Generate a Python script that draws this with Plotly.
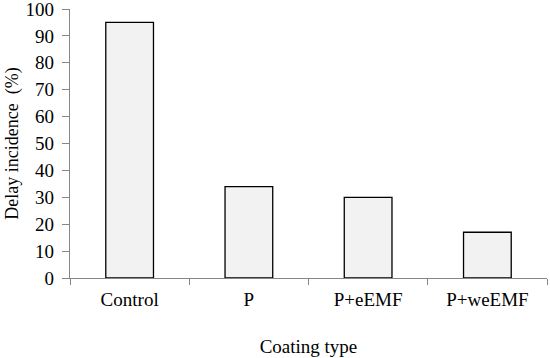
import plotly.graph_objects as go

categories = ["Control", "P", "P+eEMF", "P+weEMF"]
delay_incidence = [95, 34, 30, 17]
y_ticks = [0, 10, 20, 30, 40, 50, 60, 70, 80, 90, 100]

font_family = "Liberation Serif, Times New Roman, serif"
axis_color = "#868686"

fig = go.Figure(
    go.Bar(
        x=categories,
        y=delay_incidence,
        marker=dict(color="#f2f2f2", line=dict(color="black", width=1.3)),
        width=0.4,
    )
)

fig.update_layout(
    width=550,
    height=358,
    margin=dict(l=70, r=3, t=9, b=80),
    plot_bgcolor="white",
    paper_bgcolor="white",
    font=dict(family=font_family, size=19, color="black"),
    showlegend=False,
)

fig.update_xaxes(
    automargin=False,
    showline=True,
    linecolor=axis_color,
    linewidth=1.3,
    ticks="outside",
    tickson="boundaries",
    ticklen=6,
    tickcolor=axis_color,
    tickwidth=1.3,
    showgrid=False,
    tickfont=dict(size=19),
    ticklabelstandoff=4,
    title=dict(text="Coating type", font=dict(size=19), standoff=30),
)

fig.update_yaxes(
    automargin=False,
    range=[0, 100],
    tickvals=y_ticks,
    showline=True,
    linecolor=axis_color,
    linewidth=1.3,
    ticks="outside",
    ticklen=7,
    tickcolor=axis_color,
    tickwidth=1.3,
    showgrid=False,
    zeroline=False,
    tickfont=dict(size=19),
    ticklabelstandoff=4,
    ticklabeloverflow="allow",
    title=dict(text="Delay incidence  (%)", font=dict(size=18), standoff=2),
)

fig.write_html(
    "out.html",
    config={"displayModeBar": False},
    post_script="document.body.style.margin='0';document.body.style.overflow='hidden';",
)
